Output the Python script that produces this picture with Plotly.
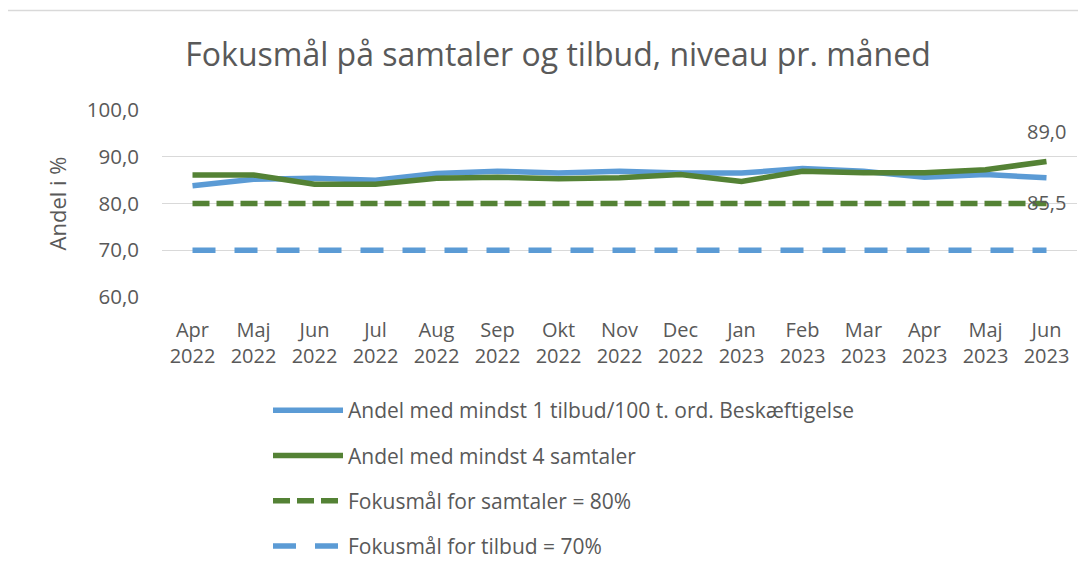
import plotly.graph_objects as go

months = ["Apr", "Maj", "Jun", "Jul", "Aug", "Sep", "Okt", "Nov", "Dec",
          "Jan", "Feb", "Mar", "Apr", "Maj", "Jun"]
years = ["2022"] * 9 + ["2023"] * 6
categories = [f"{m}<br>{y}" for m, y in zip(months, years)]

tilbud = [83.8, 85.2, 85.4, 85.0, 86.4, 86.9, 86.5, 86.9, 86.5, 86.5, 87.5, 86.9, 85.6, 86.2, 85.5]
samtaler = [86.1, 86.1, 84.1, 84.1, 85.4, 85.6, 85.3, 85.5, 86.2, 84.7, 86.9, 86.6, 86.6, 87.2, 89.0]
maal_samtaler = [80.0] * 15
maal_tilbud = [70.0] * 15

names = ["Andel med mindst 1 tilbud/100 t. ord. Beskæftigelse",
         "Andel med mindst 4 samtaler",
         "Fokusmål for samtaler = 80%",
         "Fokusmål for tilbud = 70%"]

BLUE = "#5B9BD5"
GREEN = "#548235"
TXT = "#595959"
FONT = "Open Sans"
LW = 5.5

fig = go.Figure()
fig.add_trace(go.Scatter(x=categories, y=maal_tilbud, name=names[3], mode="lines",
                         line=dict(color=BLUE, width=LW, dash="23px,19px"),
                         legendgroup="d", legendrank=4))
fig.add_trace(go.Scatter(x=categories, y=maal_samtaler, name=names[2], mode="lines",
                         line=dict(color=GREEN, width=LW, dash="17px,7px"),
                         legendgroup="c", legendrank=3))
fig.add_trace(go.Scatter(x=categories, y=tilbud, name=names[0], mode="lines",
                         line=dict(color=BLUE, width=LW),
                         legendgroup="a", legendrank=1))
fig.add_trace(go.Scatter(x=categories, y=samtaler, name=names[1], mode="lines",
                         line=dict(color=GREEN, width=LW),
                         legendgroup="b", legendrank=2))

fig.add_annotation(x=categories[-1], y=samtaler[-1], text=f"{samtaler[-1]:.1f}".replace(".", ","),
                   showarrow=False, yshift=30, font=dict(size=20, color=TXT, family=FONT))
fig.add_annotation(x=categories[-1], y=tilbud[-1], text=f"{tilbud[-1]:.1f}".replace(".", ","),
                   showarrow=False, yshift=-25, font=dict(size=20, color=TXT, family=FONT))

# The page body has an 8px margin, so screen position = figure position + 8
OFF = 8
W, H = 1086, 575
ml, mt = 162 - OFF, 110 - OFF
mb = H - (297 - OFF)
mr = W - (1077 - OFF)
pw, ph = W - ml - mr, H - mt - mb

def px_x(v):
    return (v - OFF - ml) / pw

def px_y(v):
    return (H - mb - (v - OFF)) / ph

fig.add_shape(type="line", xref="paper", yref="paper",
              x0=px_x(0), x1=px_x(1100), y0=px_y(10.5), y1=px_y(10.5),
              line=dict(color="#d9d9d9", width=1.5), layer="below")

fig.update_layout(
    width=W, height=H,
    margin=dict(l=ml, r=mr, t=mt, b=mb, autoexpand=False),
    paper_bgcolor="white", plot_bgcolor="white",
    separators=",.",
    title=dict(text="Fokusmål på samtaler og tilbud, niveau pr. måned",
               xref="paper", x=px_x(558), xanchor="center",
               yref="container", y=1 - (55 - OFF) / H, yanchor="middle",
               font=dict(family=FONT, size=32, color=TXT)),
    font=dict(family=FONT, color=TXT, size=20),
    xaxis=dict(type="category", range=[-0.5, 14.5], showgrid=False, zeroline=False,
               showline=False, ticks="", tickfont=dict(size=20, color=TXT),
               ticklabelstandoff=19, automargin=False),
    yaxis=dict(range=[60, 100], dtick=10, tickformat=".1f", showgrid=True,
               gridcolor="#d9d9d9", gridwidth=1, zeroline=False, showline=False,
               tickfont=dict(size=20.5, color=TXT), ticklabelstandoff=22, automargin=False,
               title=dict(text="Andel i %", font=dict(size=22, color=TXT), standoff=14)),
    legend=dict(orientation="v", x=px_x(268), y=px_y(390), xanchor="left", yanchor="top",
                traceorder="grouped", tracegroupgap=15, itemwidth=70,
                font=dict(size=21, color=TXT), bgcolor="rgba(0,0,0,0)"),
    showlegend=True,
)

fig.write_html("out.html")
